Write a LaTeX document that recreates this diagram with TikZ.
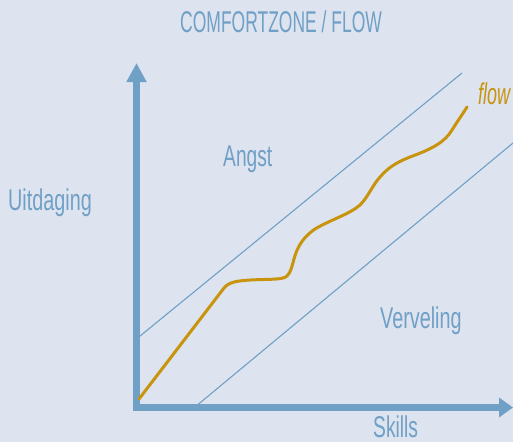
\documentclass[tikz,border=0pt]{standalone}
\usepackage{fontspec}
\setmainfont{Liberation Sans}
\usetikzlibrary{arrows.meta}
\definecolor{bg}{RGB}{221,227,239}
\definecolor{axis}{RGB}{112,160,198}
\definecolor{gold}{RGB}{200,148,14}
\newcommand\sq[2]{\scalebox{#1}[1]{#2}}
\begin{document}
\begin{tikzpicture}[x=1pt,y=-1pt,
  lbl/.style={anchor=base west,inner sep=0pt,text=axis,font=\fontsize{30}{32}\selectfont},
  axisline/.style={draw=axis,line width=7pt},
  guide/.style={draw=axis,line width=1.1pt},
  flowline/.style={draw=gold,line width=3pt,line join=round,line cap=round}]
\fill[bg] (0,0) rectangle (513,442);
\useasboundingbox (0,0) rectangle (513,442);
% guide lines
\coordinate (u1) at (137,338.5);
\coordinate (u2) at (462,73);
\coordinate (l1) at (195,407);
\coordinate (l2) at (513,143);
\draw[guide] (u1) -- (u2);
\draw[guide] (l1) -- (l2);
% axes
\coordinate (o) at (136.5,411);
\coordinate (ytip) at (136.5,63);
\coordinate (xo) at (133,407.5);
\coordinate (xtip) at (513,407.5);
\draw[axisline,-{Triangle[length=19pt,width=19pt]}] (o) -- (ytip);
\draw[axisline,-{Triangle[length=14pt,width=19pt]}] (xo) -- (xtip);
% flow curve
\coordinate (f0) at (139,399);
\coordinate (f1) at (467,107);
\draw[flowline] (f0) -- (224,288) .. controls (229,282) and (236,281) .. (250,280)
  .. controls (270,279) and (283,280) .. (287,276)
  .. controls (291,272) and (292,266) .. (294,259)
  .. controls (297,248) and (302,238) .. (315,229)
  .. controls (330,220) and (350,214) .. (360,205)
  .. controls (368,197) and (372,186) .. (380,177)
  .. controls (388,168) and (395,163) .. (410,157)
  .. controls (432,149) and (445,142) .. (452,130)
  .. controls (457,122) and (462,115) .. (f1);
% labels
\node[lbl] (title) at (180,32) {\sq{0.583}{COMFORTZONE / FLOW}};
\node[lbl] (uit) at (8,210) {\sq{0.66}{Uitdaging}};
\node[lbl] (angst) at (223,166) {\sq{0.64}{Angst}};
\node[lbl] (verv) at (380,328) {\sq{0.66}{Verveling}};
\node[lbl] (skills) at (373,437) {\sq{0.64}{Skills}};
\node[lbl,text=gold,font=\fontsize{30}{32}\selectfont\itshape] (flow) at (478,104) {\sq{0.6}{flow}};
\end{tikzpicture}
\end{document}
